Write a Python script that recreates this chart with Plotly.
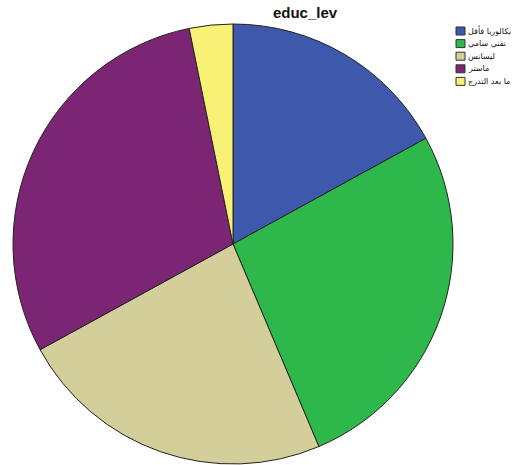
import plotly.graph_objects as go

categories = ["بكالوريا فأقل", "تقني سامي", "ليسانس", "ماستر", "ما بعد التدرج"]
counts = [16, 25, 22, 28, 3]
colors = ["#3e58ac", "#2eb84b", "#d4cf9a", "#7b2574", "#f7f275"]

W, H = 513, 465
cx, cy, r = 233, 244, 220

fig = go.Figure(go.Pie(
    labels=categories,
    values=counts,
    sort=False,
    direction="clockwise",
    rotation=0,
    textinfo="none",
    hoverinfo="label+value+percent",
    showlegend=False,
    marker=dict(colors=colors, line=dict(color="#222222", width=1)),
    domain=dict(x=[(cx - r) / W, (cx + r) / W], y=[1 - (cy + r) / H, 1 - (cy - r) / H]),
))

# legend drawn as paper-referenced boxes + labels (native legend rows are taller)
lx0, ly0, step, bw, bh = 456, 27, 12.6, 9, 8
shapes, annotations = [], []
for i, (lab, col) in enumerate(zip(categories, colors)):
    top = ly0 + i * step
    shapes.append(dict(type="rect", xref="paper", yref="paper",
                       x0=lx0 / W, x1=(lx0 + bw) / W,
                       y0=1 - (top + bh) / H, y1=1 - top / H,
                       fillcolor=col, line=dict(color="#333333", width=1)))
    annotations.append(dict(text=lab, xref="paper", yref="paper",
                            x=(lx0 + bw + 1) / W, y=1 - (top + bh / 2) / H,
                            xanchor="left", yanchor="middle", showarrow=False,
                            font=dict(family="DejaVu Sans", size=8, color="#111111")))

fig.update_layout(
    width=W, height=H,
    margin=dict(l=0, r=0, t=0, b=0),
    paper_bgcolor="white",
    plot_bgcolor="white",
    title=dict(text="<b>educ_lev</b>", x=305 / W, xanchor="center", y=1 - 13 / H, yanchor="middle",
               font=dict(family="Liberation Sans, Arial", size=15, color="#111111")),
    shapes=shapes,
    annotations=annotations,
    showlegend=False,
)

fig.write_html("out.html")
